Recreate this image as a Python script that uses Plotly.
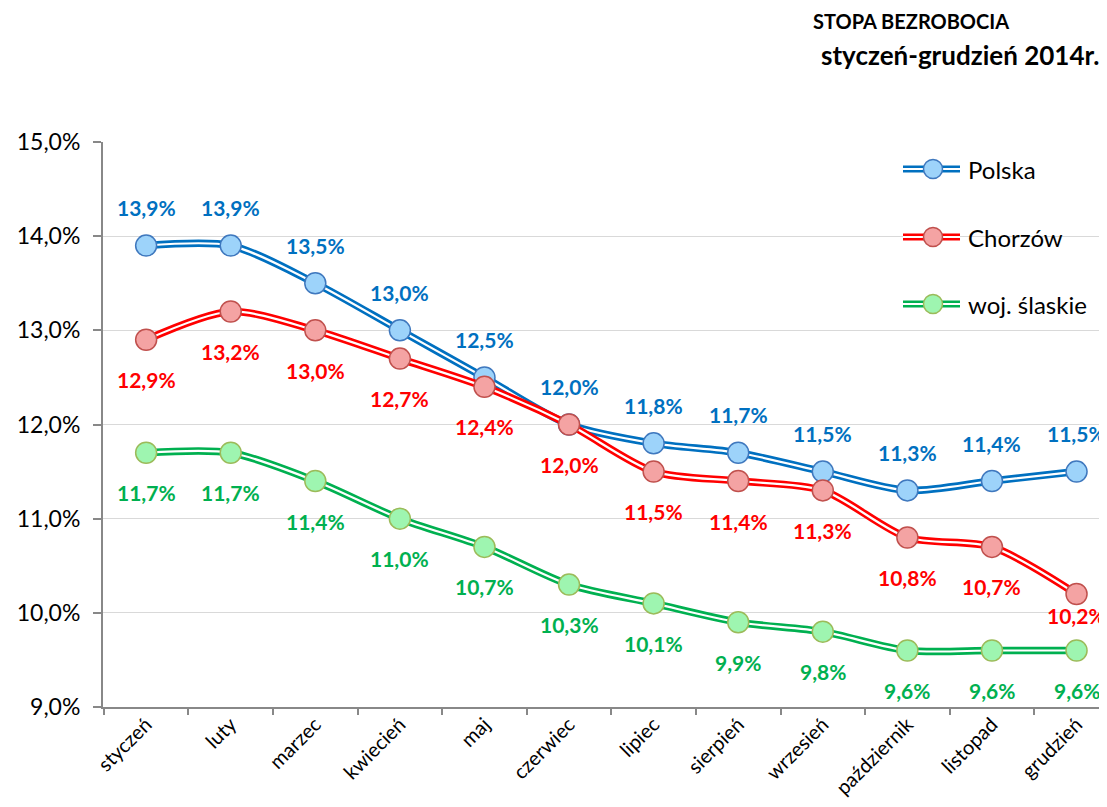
import plotly.graph_objects as go

months = ["styczeń", "luty", "marzec", "kwiecień", "maj", "czerwiec",
          "lipiec", "sierpień", "wrzesień", "październik", "listopad", "grudzień"]
polska = [13.9, 13.9, 13.5, 13.0, 12.5, 12.0, 11.8, 11.7, 11.5, 11.3, 11.4, 11.5]
chorzow = [12.9, 13.2, 13.0, 12.7, 12.4, 12.0, 11.5, 11.4, 11.3, 10.8, 10.7, 10.2]
slaskie = [11.7, 11.7, 11.4, 11.0, 10.7, 10.3, 10.1, 9.9, 9.8, 9.6, 9.6, 9.6]
series_names = ["Polska", "Chorzów", "woj. ślaskie"]
y_ticks = [9, 10, 11, 12, 13, 14, 15]
y_tick_text = [f"{v:.1f}%".replace(".", ",") for v in y_ticks]

FONT = "Lato"
styles = [
    dict(line="#0070C0", fill="#9DD3FA", edge="#3F78BE", text="#0070C0", shifts=[38] * 12),
    dict(line="#FF0000", fill="#F4A3A3", edge="#C0504D", text="#FF0000", shifts=[-40] * 11 + [-21]),
    dict(line="#00B050", fill="#9EF5B0", edge="#9BBB59", text="#00B050", shifts=[-40] * 12),
]
datasets = [polska, chorzow, slaskie]

# page body adds an 8px offset
W, H = 1099, 791
L, T, B = 95, 134, 92
PW, PH = W - L, H - T - B


def px(x_page):
    return (x_page - 8 - L) / PW


def py(y_page):
    return (H - B - (y_page - 8)) / PH


fig = go.Figure()
annotations = []
for name, vals, st in zip(series_names, datasets, styles):
    fig.add_trace(go.Scatter(x=months, y=vals, mode="lines",
                             line=dict(color=st["line"], width=7.5, shape="spline", smoothing=0.8),
                             hoverinfo="skip", showlegend=False))
    fig.add_trace(go.Scatter(x=months, y=vals, mode="lines+markers", name=name,
                             line=dict(color="white", width=2.2, shape="spline", smoothing=0.8),
                             marker=dict(size=21, color=st["fill"], line=dict(color=st["edge"], width=1.5)),
                             showlegend=False))
    for m, v, s in zip(months, vals, st["shifts"]):
        annotations.append(dict(x=m, y=v, xref="x", yref="y", text=f"{v:.1f}%".replace(".", ","),
                                showarrow=False, yshift=s,
                                font=dict(family=FONT, size=21, color=st["text"], weight="bold")))

# manual legend
shapes = []
leg_y = [169, 237, 304]
for name, st, ly in zip(series_names, styles, leg_y):
    yy = py(ly)
    shapes.append(dict(type="line", xref="paper", yref="paper", x0=px(903), x1=px(960), y0=yy, y1=yy,
                       line=dict(color=st["line"], width=7), layer="above"))
    shapes.append(dict(type="line", xref="paper", yref="paper", x0=px(903), x1=px(960), y0=yy, y1=yy,
                       line=dict(color="white", width=2), layer="above"))
    shapes.append(dict(type="circle", xref="paper", yref="paper", xsizemode="pixel", ysizemode="pixel",
                       xanchor=px(933), yanchor=yy, x0=-9.5, x1=9.5, y0=-9.5, y1=9.5,
                       fillcolor=st["fill"], line=dict(color=st["edge"], width=1.5), layer="above"))
    annotations.append(dict(x=px(966), y=yy, xref="paper", yref="paper", text=name, showarrow=False,
                            xanchor="left", yanchor="middle",
                            font=dict(family=FONT, size=24, color="black")))

annotations.append(dict(x=px(911), y=py(21), xref="paper", yref="paper", text="STOPA BEZROBOCIA",
                        showarrow=False, xanchor="center", yanchor="middle",
                        font=dict(family=FONT, size=20, color="black", weight="bold")))
annotations.append(dict(x=px(1101), y=py(55), xref="paper", yref="paper", text="styczeń-grudzień 2014r.",
                        showarrow=False, xanchor="right", yanchor="middle",
                        font=dict(family=FONT, size=26, color="black", weight="bold")))

fig.update_layout(
    width=W, height=H,
    margin=dict(l=L, r=0, t=T, b=B),
    paper_bgcolor="white", plot_bgcolor="white",
    showlegend=False,
    annotations=annotations,
    shapes=shapes,
    font=dict(family=FONT, color="black"),
)
fig.update_xaxes(range=[-0.51, 11.36], tickangle=-45, tickson="boundaries", automargin=False,
                 showline=True, linecolor="#888888", linewidth=2,
                 ticks="outside", ticklen=6, tickcolor="#888888", tickwidth=2,
                 ticklabelstandoff=-4,
                 showgrid=False, tickfont=dict(family=FONT, size=20, color="black"))
fig.update_yaxes(range=[9, 15], tickvals=y_ticks, ticktext=y_tick_text, automargin=False,
                 showline=True, linecolor="#888888", linewidth=2,
                 ticks="outside", ticklen=8, tickcolor="#888888", tickwidth=2,
                 ticklabelstandoff=8,
                 gridcolor="#D9D9D9", gridwidth=1, zeroline=False,
                 tickfont=dict(family=FONT, size=23, color="black"))

fig.write_html("out.html")
